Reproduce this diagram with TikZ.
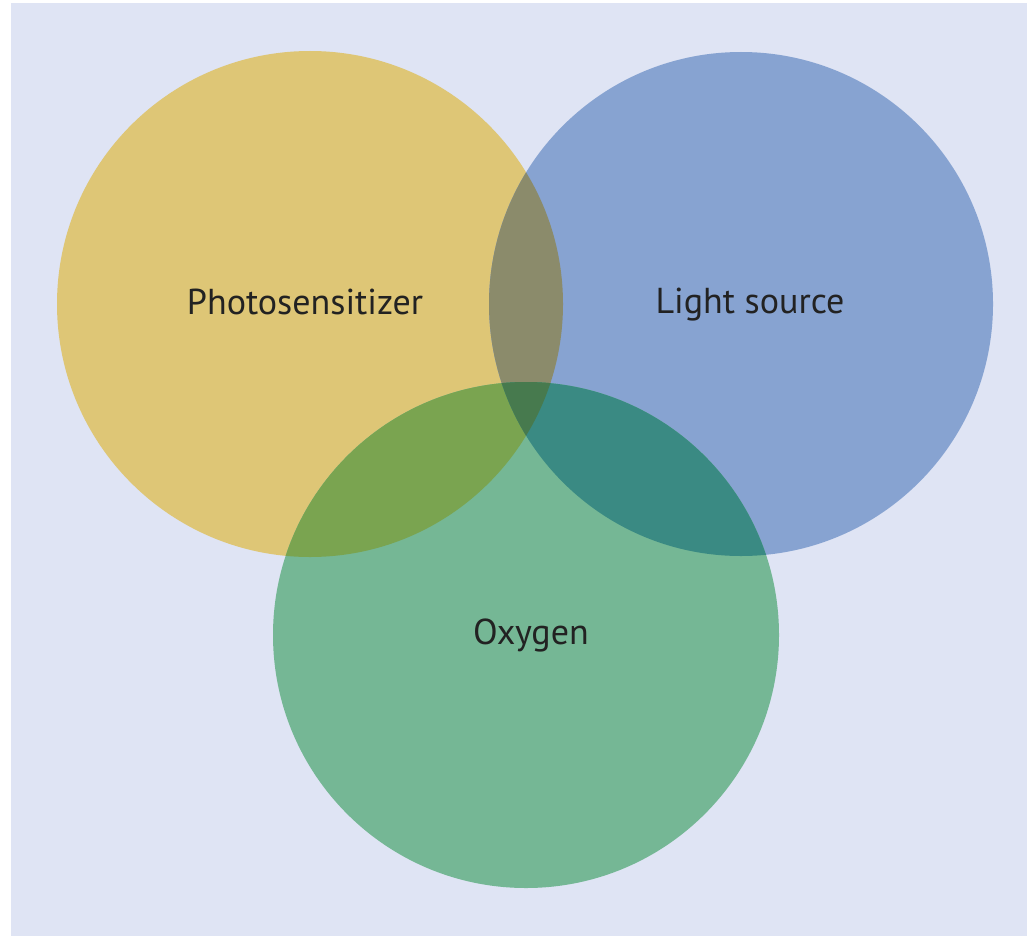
\documentclass[tikz,border=0pt]{standalone}
\usepackage{fontspec}
\setmainfont{PT Sans}
\definecolor{bgblue}{HTML}{DFE4F4}
\definecolor{psyellow}{HTML}{DEC676}
\definecolor{lsblue}{HTML}{87A3D1}
\definecolor{oxgreen}{HTML}{75B795}
\definecolor{psls}{HTML}{8B8B6B}
\definecolor{psox}{HTML}{7AA450}
\definecolor{lsox}{HTML}{3A8A83}
\definecolor{allthree}{HTML}{477A4E}
\definecolor{txtdark}{HTML}{222222}
\tikzset{
  lbl/.style={text=txtdark, font=\fontsize{20.5}{24}\selectfont, inner sep=0pt, anchor=base}
}
\begin{document}
\begin{tikzpicture}[x=0.02cm,y=-0.02cm]
        \useasboundingbox (0,0) rectangle (1027,936);
        \fill[bgblue] (11,3) rectangle (1027,936);

        \coordinate (ps) at (310,304);
        \coordinate (ls) at (741,304);
        \coordinate (ox) at (526,635);

        \fill[psyellow] (ps) circle (253);
        \fill[lsblue]   (ls) circle (252);
        \fill[oxgreen]  (ox) circle (253);

        % overlaps
        \begin{scope}
            \clip (ps) circle (253);
            \fill[psls] (ls) circle (252);
            \fill[psox] (ox) circle (253);
        \end{scope}
        \begin{scope}
            \clip (ls) circle (252);
            \fill[lsox] (ox) circle (253);
        \end{scope}
        \begin{scope}
            \clip (ps) circle (253);
            \clip (ls) circle (252);
            \fill[allthree] (ox) circle (253);
        \end{scope}

        \node at (305,314) [lbl] (photo) {Photosensitizer};
        \node at (750,313) [lbl] (light) {Light source};
        \node at (531,644) [lbl] (oxygen) {Oxygen};
\end{tikzpicture}
\end{document}
